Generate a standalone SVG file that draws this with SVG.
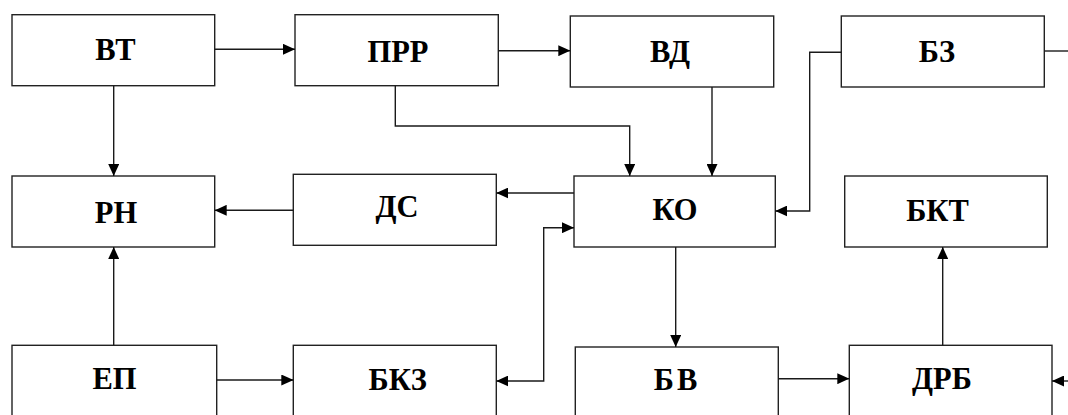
<svg xmlns="http://www.w3.org/2000/svg" width="1068" height="415" viewBox="0 0 1068 415">
  <style>
    .box { fill: #ffffff; stroke: #222222; stroke-width: 1.4; }
    .wire { fill: none; stroke: #1a1a1a; stroke-width: 1.4; }
  </style>
  <defs>
    <marker id="head" viewBox="0 0 12 11" refX="12" refY="5.5" markerWidth="12" markerHeight="11" markerUnits="userSpaceOnUse" orient="auto">
      <path d="M0,0 L12,5.5 L0,11 z" fill="#000000"/>
    </marker>
    <marker id="tail" viewBox="0 0 12 11" refX="12" refY="5.5" markerWidth="12" markerHeight="11" markerUnits="userSpaceOnUse" orient="auto-start-reverse">
      <path d="M0,0 L12,5.5 L0,11 z" fill="#000000"/>
    </marker>
  </defs>
  <rect width="1068" height="415" fill="#ffffff"/>

  <g font-family="Liberation Serif, Times New Roman, DejaVu Serif, serif" font-weight="bold" font-size="30.5" fill="#000000" text-anchor="middle">
  <!-- top row -->
  <g id="node-VT">
    <rect class="box" x="12" y="14.7" width="202.7" height="71"/>
    <text x="115.5" y="60.3">ВТ</text>
  </g>
  <g id="node-PRR">
    <rect class="box" x="295" y="14.7" width="203.3" height="71"/>
    <text x="398" y="61.5">ПРР</text>
  </g>
  <g id="node-VD">
    <rect class="box" x="570.3" y="16" width="203.4" height="71"/>
    <text x="670" y="61.5">ВД</text>
  </g>
  <g id="node-BZ">
    <rect class="box" x="841.3" y="16" width="203" height="71"/>
    <text x="937" y="61.7">БЗ</text>
  </g>

  <!-- middle row -->
  <g id="node-RN">
    <rect class="box" x="12" y="176" width="202.7" height="71"/>
    <text x="116" y="222.7">РН</text>
  </g>
  <g id="node-DS">
    <rect class="box" x="293.3" y="174.3" width="203" height="71"/>
    <text x="397" y="217">ДС</text>
  </g>
  <g id="node-KO">
    <rect class="box" x="574" y="176" width="201.3" height="71"/>
    <text x="675" y="220.3">КО</text>
  </g>
  <g id="node-BKT">
    <rect class="box" x="844.7" y="176" width="202.6" height="71"/>
    <text x="937.5" y="221">БКТ</text>
  </g>

  <!-- bottom row (boxes run past the lower edge) -->
  <g id="node-EP">
    <rect class="box" x="12" y="345.3" width="204.7" height="90"/>
    <text x="114.5" y="389">ЕП</text>
  </g>
  <g id="node-BKZ">
    <rect class="box" x="293.3" y="345.3" width="203" height="90"/>
    <text x="397.7" y="389.7">БКЗ</text>
  </g>
  <g id="node-BV">
    <rect class="box" x="575.3" y="347" width="203" height="90"/>
    <text x="677" y="389.7" letter-spacing="3">БВ</text>
  </g>
  <g id="node-DRB">
    <rect class="box" x="849.3" y="345.3" width="202.7" height="90"/>
    <text x="942" y="388.7">ДРБ</text>
  </g>
  </g>

  <!-- connectors -->
  <g id="connectors">
    <path class="wire" d="M214.7,49.3 H295" marker-end="url(#head)"/>
    <path class="wire" d="M498.3,50.7 H570.3" marker-end="url(#head)"/>
    <path class="wire" d="M113.7,85.7 V176" marker-end="url(#head)"/>
    <path class="wire" d="M395.3,85.7 V126 H629.7 V176" marker-end="url(#head)"/>
    <path class="wire" d="M712,87 V176" marker-end="url(#head)"/>
    <path class="wire" d="M841.3,52.3 H809.7 V211 H775.3" marker-end="url(#head)"/>
    <path class="wire" d="M1044.3,51 H1068"/>
    <path class="wire" d="M574,193 H496.3" marker-end="url(#head)"/>
    <path class="wire" d="M293.3,210.3 H214.7" marker-end="url(#head)"/>
    <path class="wire" d="M113.7,345.3 V247" marker-end="url(#head)"/>
    <path class="wire" d="M216.7,380 H293.3" marker-end="url(#head)"/>
    <path class="wire" d="M496.3,381 H543.7 V227.7 H574" marker-start="url(#tail)" marker-end="url(#head)"/>
    <path class="wire" d="M675.7,247 V347" marker-end="url(#head)"/>
    <path class="wire" d="M778.3,378.7 H849.3" marker-end="url(#head)"/>
    <path class="wire" d="M942.7,345.3 V247" marker-end="url(#head)"/>
    <path class="wire" d="M1068,381 H1052" marker-end="url(#head)"/>
  </g>
</svg>
